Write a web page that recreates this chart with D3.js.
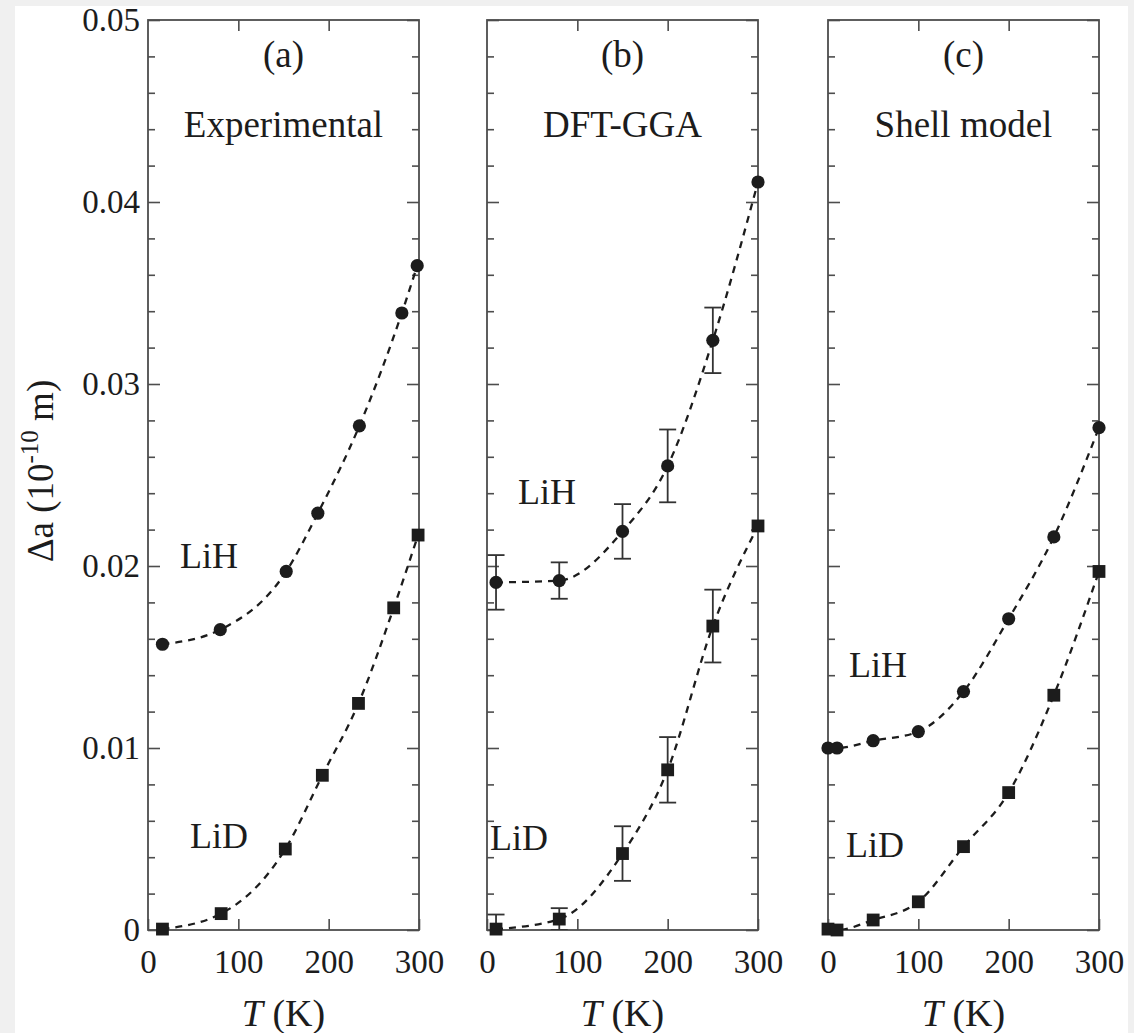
<!DOCTYPE html>
<html>
<head>
<meta charset="utf-8">
<script src="https://cdn.jsdelivr.net/npm/d3@7"></script>
<style>
  html, body { margin: 0; padding: 0; background: #f0f0f0; }
  svg { display: block; }
  text { font-family: "Liberation Serif", "Times New Roman", serif; fill: #1c1c1c; }
</style>
</head>
<body>
<svg id="chart" width="1134" height="1033"></svg>
<script>
// ---- data: lattice-parameter change Δa (10^-10 m) vs temperature T (K) ----
const panelTags   = ["(a)", "(b)", "(c)"];
const panelTitles = ["Experimental", "DFT-GGA", "Shell model"];

// (a) experimental
const expLiH_T = [16, 80, 153, 188, 234, 281, 298];
const expLiH   = [0.0157, 0.0165, 0.0197, 0.0229, 0.0277, 0.0339, 0.0365];
const expLiD_T = [16, 81, 152, 193, 233, 272, 299];
const expLiD   = [0.00005, 0.0009, 0.00445, 0.0085, 0.01245, 0.0177, 0.0217];

// (b) DFT-GGA with error bars
const dftT      = [10, 80, 150, 200, 250, 300];
const dftLiH    = [0.0191, 0.0192, 0.0219, 0.0255, 0.0324, 0.0411];
const dftLiHErr = [0.0015, 0.0010, 0.0015, 0.0020, 0.0018, 0];
const dftLiD    = [0.00005, 0.0006, 0.0042, 0.0088, 0.0167, 0.0222];
const dftLiDErr = [0.0008, 0.0006, 0.0015, 0.0018, 0.0020, 0];

// (c) shell model
const shellT   = [0, 10, 50, 100, 150, 200, 250, 300];
const shellLiH = [0.0100, 0.0100, 0.0104, 0.0109, 0.0131, 0.0171, 0.0216, 0.0276];
const shellLiD = [0.00005, 0, 0.00055, 0.00155, 0.00458, 0.00755, 0.0129, 0.0197];

// axis ticks
const xTicks      = [0, 100, 200, 300];
const xTickLabels = ["0", "100", "200", "300"];
const yTicks      = [0, 0.01, 0.02, 0.03, 0.04, 0.05];
const yTickLabels = ["0", "0.01", "0.02", "0.03", "0.04", "0.05"];
const yMinorTicks = [0.002, 0.004, 0.006, 0.008, 0.012, 0.014, 0.016, 0.018,
                     0.022, 0.024, 0.026, 0.028, 0.032, 0.034, 0.036, 0.038,
                     0.042, 0.044, 0.046, 0.048];

// series labels per panel
const lihLabelPos = [[180, 0.0199], [518, 0.0234], [849, 0.0139]];
const lidLabelPos = [[190, 0.0045], [490, 0.0044], [846, 0.0040]];

const zip = (xs, ys, es) => xs.map((x, i) => ({ T: x, v: ys[i], e: es ? es[i] : 0 }));
const panelData = [
  { lih: zip(expLiH_T, expLiH), lid: zip(expLiD_T, expLiD) },
  { lih: zip(dftT, dftLiH, dftLiHErr), lid: zip(dftT, dftLiD, dftLiDErr), err: true },
  { lih: zip(shellT, shellLiH), lid: zip(shellT, shellLiD) }
];

// ---- layout ----
const svg = d3.select("#chart");
svg.append("rect").attr("x", 15).attr("y", 6).attr("width", 1113).attr("height", 1027).attr("fill", "#ffffff");

const panelLeft = [148, 487, 828];
const panelW = 271;
const plotTop = 20, plotBottom = 930;
const ink = "#1c1c1c", axisCol = "#4d4d4d";

const y = d3.scaleLinear().domain([0, 0.05]).range([plotBottom, plotTop]);

panelLeft.forEach((left, p) => {
  const x = d3.scaleLinear().domain([0, 300]).range([left, left + panelW]);
  const g = svg.append("g");

  const clipId = "clip" + p;
  svg.append("clipPath").attr("id", clipId)
    .append("rect").attr("x", left).attr("y", plotTop).attr("width", panelW).attr("height", plotBottom - plotTop);

  // bottom axis with labels
  const xb = g.append("g").attr("transform", `translate(0,${plotBottom})`)
    .call(d3.axisBottom(x).tickValues(xTicks).tickFormat((d, i) => xTickLabels[i])
      .tickSizeInner(-11).tickSizeOuter(0).tickPadding(20));
  // top axis ticks
  const xt = g.append("g").attr("transform", `translate(0,${plotTop})`)
    .call(d3.axisTop(x).tickValues([100, 200]).tickFormat("").tickSizeInner(-11).tickSizeOuter(0));
  // left & right y axes, major + minor ticks
  const yl = g.append("g").attr("transform", `translate(${left},0)`)
    .call(d3.axisLeft(y).tickValues(yTicks).tickFormat(p === 0 ? (d, i) => yTickLabels[i] : "")
      .tickSizeInner(-12).tickSizeOuter(0).tickPadding(8));
  const ylm = g.append("g").attr("transform", `translate(${left},0)`)
    .call(d3.axisLeft(y).tickValues(yMinorTicks).tickFormat("").tickSizeInner(-7).tickSizeOuter(0));
  const yr = g.append("g").attr("transform", `translate(${left + panelW},0)`)
    .call(d3.axisRight(y).tickValues(yTicks).tickFormat("").tickSizeInner(-12).tickSizeOuter(0));
  const yrm = g.append("g").attr("transform", `translate(${left + panelW},0)`)
    .call(d3.axisRight(y).tickValues(yMinorTicks).tickFormat("").tickSizeInner(-7).tickSizeOuter(0));

  [xb, xt, yl, ylm, yr, yrm].forEach(a => {
    a.select(".domain").remove();
    a.selectAll("line").attr("stroke", axisCol).attr("stroke-width", 1.6);
    a.selectAll("text").attr("font-size", 33).attr("fill", ink)
      .style("font-family", '"Liberation Serif", "Times New Roman", serif');
  });

  // frame
  g.append("rect").attr("x", left).attr("y", plotTop).attr("width", panelW).attr("height", plotBottom - plotTop)
    .attr("fill", "none").attr("stroke", axisCol).attr("stroke-width", 1.8);

  // panel tag and title
  g.append("text").attr("x", left + panelW / 2).attr("y", 67).attr("text-anchor", "middle")
    .attr("font-size", 37).text(panelTags[p]);
  g.append("text").attr("x", left + panelW / 2).attr("y", 137).attr("text-anchor", "middle")
    .attr("font-size", 37).text(panelTitles[p]);

  // x axis title
  const xl = g.append("text").attr("x", left + panelW / 2).attr("y", 1026)
    .attr("text-anchor", "middle").attr("font-size", 38);
  xl.append("tspan").attr("font-style", "italic").text("T");
  xl.append("tspan").text(" (K)");

  // series labels
  g.append("text").attr("x", lihLabelPos[p][0]).attr("y", y(lihLabelPos[p][1]))
    .attr("font-size", 36).text("LiH");
  g.append("text").attr("x", lidLabelPos[p][0]).attr("y", y(lidLabelPos[p][1]))
    .attr("font-size", 36).text("LiD");

  const d = panelData[p];
  const plot = g.append("g").attr("clip-path", `url(#${clipId})`);
  const line = d3.line().x(q => x(q.T)).y(q => y(q.v)).curve(d3.curveMonotoneX);

  [d.lih, d.lid].forEach(series => {
    plot.append("path").datum(series).attr("d", line)
      .attr("fill", "none").attr("stroke", ink).attr("stroke-width", 2.3)
      .attr("stroke-dasharray", "7,6");
  });

  if (d.err) {
    [d.lih, d.lid].forEach(series => {
      const eb = plot.selectAll(null).data(series.filter(q => q.e > 0)).enter().append("g")
        .attr("stroke", "#333").attr("stroke-width", 1.8);
      eb.append("line").attr("x1", q => x(q.T)).attr("x2", q => x(q.T))
        .attr("y1", q => y(q.v - q.e)).attr("y2", q => y(q.v + q.e));
      eb.append("line").attr("x1", q => x(q.T) - 8.5).attr("x2", q => x(q.T) + 8.5)
        .attr("y1", q => y(q.v + q.e)).attr("y2", q => y(q.v + q.e));
      eb.append("line").attr("x1", q => x(q.T) - 8.5).attr("x2", q => x(q.T) + 8.5)
        .attr("y1", q => y(q.v - q.e)).attr("y2", q => y(q.v - q.e));
    });
  }

  // markers: circles for LiH, squares for LiD
  g.selectAll(null).data(d.lih).enter().append("circle")
    .attr("cx", q => x(q.T)).attr("cy", q => y(q.v)).attr("r", 6.6).attr("fill", ink);
  g.selectAll(null).data(d.lid).enter().append("rect")
    .attr("x", q => x(q.T) - 6.4).attr("y", q => y(q.v) - 6.4)
    .attr("width", 12.8).attr("height", 12.8).attr("fill", ink);
});

// y axis title
const yt = svg.append("text").attr("transform", "translate(53,471) rotate(-90)")
  .attr("text-anchor", "middle").attr("font-size", 37);
yt.append("tspan").text("Δa (10");
yt.append("tspan").attr("font-size", 25).attr("dy", -15).text("-10");
yt.append("tspan").attr("dy", 15).text(" m)");
</script>
</body>
</html>
